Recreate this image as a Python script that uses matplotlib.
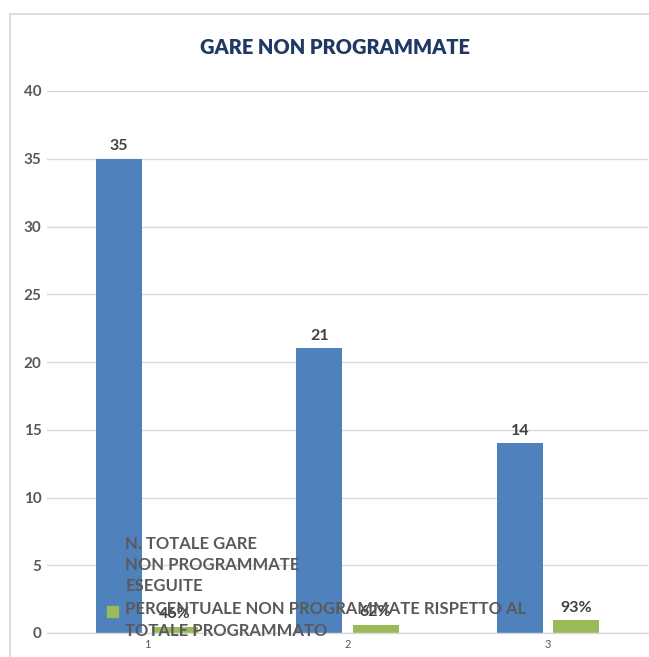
import matplotlib
matplotlib.use("Agg")
import matplotlib.pyplot as plt
from matplotlib.patches import Rectangle
from matplotlib.lines import Line2D
from matplotlib.legend_handler import HandlerPatch

plt.rcParams["font.family"] = ["Lato", "DejaVu Sans"]

categories = ["1", "2", "3"]
gare_eseguite = [35, 21, 14]
percentuale = [0.46, 0.62, 0.93]
perc_labels = ["46%", "62%", "93%"]
series_names = ["N. TOTALE GARE\nNON PROGRAMMATE\nESEGUITE",
                "PERCENTUALE NON PROGRAMMATE RISPETTO AL\nTOTALE PROGRAMMATO"]

BLUE = "#4F81BD"
GREEN = "#9BBB59"
GRID = "#D9D9D9"
TXT = "#595959"

fig = plt.figure(figsize=(6.49, 6.57), dpi=100)
ax = fig.add_axes([47 / 649, 24 / 657, 601 / 649, 542 / 657])

# chart border (left and top edges)
fig.add_artist(Line2D([10 / 649, 10 / 649], [0, 643 / 657], color=GRID, lw=1.2,
                      transform=fig.transFigure))
fig.add_artist(Line2D([10 / 649, 1], [643 / 657, 643 / 657], color=GRID, lw=1.2,
                      transform=fig.transFigure))

x = list(range(len(categories)))
w = 0.23
off = 0.14
b1 = ax.bar([i - off for i in x], gare_eseguite, width=w, color=BLUE, zorder=2)
b2 = ax.bar([i + off for i in x], percentuale, width=w, color=GREEN, zorder=2)

for rect, v in zip(b1, gare_eseguite):
    ax.annotate(str(v), (rect.get_x() + rect.get_width() / 2, rect.get_height()),
                xytext=(0, 4), textcoords="offset points", ha="center", va="bottom",
                fontsize=11.5, fontweight="bold", color="#404040")
for rect, lab in zip(b2, perc_labels):
    ax.annotate(lab, (rect.get_x() + rect.get_width() / 2, rect.get_height()),
                xytext=(0, 4), textcoords="offset points", ha="center", va="bottom",
                fontsize=11.5, fontweight="bold", color="#404040")

ax.set_xlim(-0.5, 2.5)
ax.set_ylim(0, 40)
ax.set_yticks(range(0, 41, 5))
ax.set_xticks(x)
ax.set_xticklabels(categories)
ax.yaxis.grid(True, color=GRID, lw=1, zorder=0)
ax.set_axisbelow(True)
for s in ["left", "right", "top"]:
    ax.spines[s].set_visible(False)
ax.spines["bottom"].set_color(GRID)
ax.spines["bottom"].set_linewidth(1)
ax.tick_params(axis="y", length=0, pad=4, labelsize=11, labelcolor=TXT)
ax.tick_params(axis="x", length=0, pad=4, labelsize=8, labelcolor=TXT)
for t in ax.get_yticklabels():
    t.set_fontweight("bold")

fig.text(335 / 649, 1 - 47 / 657, "GARE NON PROGRAMMATE", ha="center", va="center",
         fontsize=14.4, fontweight="heavy", color="#1F3864")


def top_square(legend, orig_handle, xdescent, ydescent, width, height, fontsize):
    return Rectangle((-xdescent, -ydescent + 0.57 * fontsize), width, height)


h1 = Rectangle((0, 0), 1, 1, color=BLUE)
h2 = Rectangle((0, 0), 1, 1, color=GREEN)
leg = ax.legend(handles=[h1, h2], labels=series_names, loc="upper left",
                bbox_to_anchor=(107 / 649, 1 - 536 / 657),
                bbox_transform=fig.transFigure, frameon=False,
                prop={"size": 12, "weight": "bold"}, labelcolor=TXT,
                handlelength=0.65, handleheight=0.65, handletextpad=0.45,
                labelspacing=0.42, borderpad=0, borderaxespad=0,
                handler_map={Rectangle: HandlerPatch(patch_func=top_square)})
for t in leg.get_texts():
    t.set_linespacing(1.4)
leg.set_zorder(5)

fig.savefig("out.png", dpi=100)
